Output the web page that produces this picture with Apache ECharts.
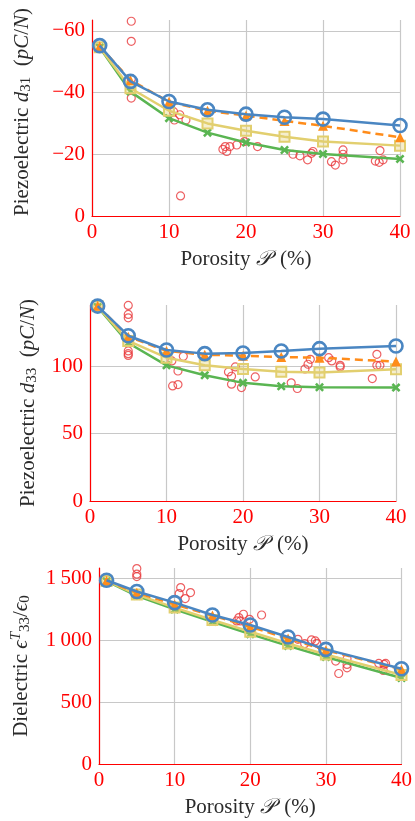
<!DOCTYPE html>
<html>
<head>
<meta charset="utf-8">
<script src="https://cdn.jsdelivr.net/npm/echarts@6/dist/echarts.min.js"></script>
<style>
  html, body { margin: 0; padding: 0; background: #fff; }
  #chart { width: 415px; height: 821px; }
</style>
</head>
<body>
<div id="chart"></div>
<script>
// porosity (%) where the models were evaluated
const porosity = [1, 5, 10, 15, 20, 25, 30, 40];

// d31 (pC/N)
const d31Blue   = [-55.2, -43.6, -37.1, -34.4, -33.0, -32.0, -31.4, -29.3];
const d31Orange = [-55.0, -44.0, -37.0, -34.1, -32.5, -30.8, -29.2, -25.5];
const d31Yellow = [-54.7, -41.4, -34.1, -30.0, -27.6, -25.7, -24.1, -22.8];
const d31Green  = [-54.6, -40.3, -31.7, -27.0, -23.8, -21.4, -20.1, -18.5];
const d31Exp = [
  [5.1, -63.1], [5.1, -56.6], [5.1, -44.4], [5.1, -38.2],
  [10.6, -33.8], [10.7, -31.1], [11.4, -32.8], [12.2, -31.1], [11.5, -6.5],
  [17.0, -21.6], [17.3, -22.5], [17.5, -20.9], [17.9, -22.5], [18.8, -23.0], [19.8, -24.1], [21.5, -22.5],
  [26.1, -20.0], [27.0, -19.5], [28.0, -18.2], [28.5, -20.3], [28.7, -20.9],
  [31.1, -17.6], [31.6, -16.5], [32.6, -21.4], [32.6, -20.0], [32.6, -18.2],
  [36.8, -17.8], [37.3, -17.4], [37.4, -21.2], [37.8, -18.2]
];

// d33 (pC/N)
const d33Blue   = [144.7, 122.7, 112.1, 109.4, 109.9, 111.4, 113.1, 115.1];
const d33Orange = [145.0, 122.0, 111.4, 108.6, 107.9, 106.9, 106.4, 103.5];
const d33Yellow = [144.5, 118.8, 106.4, 100.7, 98.0, 96.0, 95.3, 97.8];
const d33Green  = [144.0, 117.3, 100.7, 93.3, 87.7, 85.2, 84.4, 84.2];
const d33Exp = [
  [5.0, 145.2], [5.0, 138.5], [5.0, 136.0], [5.0, 111.4], [5.0, 109.4], [5.0, 108.1],
  [10.7, 104.0], [10.8, 85.4], [11.5, 86.4], [11.5, 96.5], [12.2, 107.4],
  [18.1, 95.8], [18.5, 92.6], [18.5, 86.7], [19.0, 99.5], [19.8, 84.2], [21.6, 92.1],
  [26.3, 87.7], [27.1, 83.5], [28.1, 98.0], [28.5, 101.5], [28.8, 105.2],
  [31.2, 106.4], [31.6, 104.0], [32.7, 100.7], [32.7, 99.5],
  [36.9, 90.9], [37.5, 108.9], [37.5, 100.7], [37.9, 100.7]
];

// relative permittivity eps33T / eps0
const epsBlue   = [1486, 1395, 1305, 1205, 1124, 1027, 927, 770];
const epsOrange = [1482, 1385, 1290, 1200, 1110, 1015, 920, 765];
const epsYellow = [1480, 1370, 1265, 1165, 1070, 975, 885, 720];
const epsGreen  = [1478, 1360, 1250, 1150, 1050, 955, 865, 695];
const epsExp = [
  [5.0, 1580], [5.0, 1535], [5.0, 1516],
  [10.8, 1427], [10.6, 1378], [11.4, 1338], [12.1, 1386],
  [18.2, 1157], [18.5, 1184], [18.7, 1157], [19.1, 1211], [19.9, 1170], [21.5, 1205],
  [26.3, 1008], [27.2, 973], [28.1, 1003], [28.6, 995], [28.8, 976],
  [31.3, 832], [31.7, 732], [32.8, 851], [32.8, 805], [32.8, 778],
  [37.0, 813], [37.6, 757], [37.7, 805], [37.9, 813]
];

// tick labels
const xTicks = [0, 10, 20, 30, 40];
const d31Ticks = [0, -20, -40, -60];
const d33Ticks = [0, 50, 100];
const epsTicks = [0, 500, 1000, 1500];

const FONT = '"Liberation Serif", "DejaVu Serif", serif';
const RED = '#ff0000';
const GRID = '#c8c8c8';
const TEXT = '#2b2b2b';
const BLUE = '#4a86c2';
const ORANGE = '#ff8c1a';
const YELLOW = '#e2cf6f';
const GREEN = '#5ab552';
const EXP = '#e8383b';
const CROSS = 'path://M0,2L2,0L5,3L8,0L10,2L7,5L10,8L8,10L5,7L2,10L0,8L3,5Z';

const pair = (ys) => porosity.map((x, i) => [x, ys[i]]);

// rich styles for the axis titles (n = upright, i = math italic, sub/sup = indices)
const rich = {
  n: { fontFamily: FONT, fontSize: 21, color: TEXT, lineHeight: 24 },
  i: { fontFamily: FONT, fontSize: 21, fontStyle: 'italic', color: TEXT, lineHeight: 24 },
  sub: { fontFamily: FONT, fontSize: 15, color: TEXT, verticalAlign: 'bottom', lineHeight: 15 },
  sup: { fontFamily: FONT, fontSize: 15, fontStyle: 'italic', color: TEXT, verticalAlign: 'top', lineHeight: 15 }
};

function xAxisFor(g) {
  return {
    gridIndex: g, type: 'value', min: 0, max: 40, interval: 10,
    axisLine: { show: true, onZero: false, lineStyle: { color: RED, width: 1.2 } },
    axisTick: { show: false },
    axisLabel: { color: RED, fontFamily: FONT, fontSize: 21, margin: 6,
      customValues: xTicks },
    splitLine: { show: true, lineStyle: { color: GRID, width: 1.2 } },
    name: '{n|Porosity\u00a0}{i|𝒫}{n|\u2009\u00a0(%)}',
    nameLocation: 'middle', nameGap: 31,
    nameTextStyle: { rich: rich }
  };
}

function yAxisFor(g, max, ticks, opts) {
  return Object.assign({
    gridIndex: g, type: 'value', min: 0, max: max,
    axisLine: { show: true, lineStyle: { color: RED, width: 1.2 } },
    axisTick: { show: false, customValues: ticks },
    axisLabel: { color: RED, fontFamily: FONT, fontSize: 21, margin: 7,
      customValues: ticks },
    splitLine: { show: true, lineStyle: { color: GRID, width: 1.2 } },
    nameLocation: 'middle',
    nameTextStyle: { rich: rich }
  }, opts);
}

function modelSeries(g, blue, orange, yellow, green) {
  return [
    {
      type: 'line', xAxisIndex: g, yAxisIndex: g, data: pair(green), z: 3,
      symbol: CROSS, symbolSize: 9,
      lineStyle: { color: GREEN, width: 2.5 },
      itemStyle: { color: GREEN }
    },
    {
      type: 'line', xAxisIndex: g, yAxisIndex: g, data: pair(yellow), z: 4,
      symbol: 'rect', symbolSize: 10,
      lineStyle: { color: YELLOW, width: 2.5 },
      itemStyle: { color: 'rgba(226,207,111,0.35)', borderColor: YELLOW, borderWidth: 2 }
    },
    {
      type: 'line', xAxisIndex: g, yAxisIndex: g, data: pair(orange), z: 5,
      symbol: 'triangle', symbolSize: 10,
      lineStyle: { color: ORANGE, width: 2.5, type: [8, 5] },
      itemStyle: { color: ORANGE }
    },
    {
      type: 'line', xAxisIndex: g, yAxisIndex: g, data: pair(blue), z: 6,
      symbol: 'circle', symbolSize: 13,
      lineStyle: { color: BLUE, width: 2.5 },
      itemStyle: { color: 'rgba(255,255,255,0)', borderColor: BLUE, borderWidth: 2.6 }
    }
  ];
}

function expSeries(g, data) {
  return {
    type: 'scatter', xAxisIndex: g, yAxisIndex: g, data: data, z: 2,
    symbol: 'circle', symbolSize: 8,
    itemStyle: { color: 'rgba(255,255,255,0)', borderColor: EXP, borderWidth: 1.2 }
  };
}

const chart = echarts.init(document.getElementById('chart'));

const option = {
  animation: false,
  backgroundColor: '#fff',
  grid: [
    { left: 92, top: 20, width: 308, height: 196 },
    { left: 90, top: 305, width: 306, height: 196 },
    { left: 99, top: 568, width: 306, height: 196 }
  ],
  xAxis: [xAxisFor(0), xAxisFor(1), xAxisFor(2)],
  yAxis: [
    yAxisFor(0, 0, d31Ticks, {
      min: -63.5, max: 0, inverse: true,
      name: '{n|Piezoelectric\u00a0}{i|d}{sub|31}{n|\u00a0\u00a0(}{i|pC}{n|/}{i|N}{n|)}', nameGap: 58,
      nameTextStyle: { rich: rich, padding: [0, 0, 0, 12] },
      axisLabel: { color: RED, fontFamily: FONT, fontSize: 21, margin: 7,
        customValues: d31Ticks,
        formatter: (v) => (v < 0 ? '\u2212' + Math.abs(v) : String(v)) }
    }),
    yAxisFor(1, 145.5, d33Ticks, {
      name: '{n|Piezoelectric\u00a0}{i|d}{sub|33}{n|\u00a0\u00a0(}{i|pC}{n|/}{i|N}{n|)}', nameGap: 50
    }),
    yAxisFor(2, 1585, epsTicks, {
      name: '{n|Dielectric\u00a0}{i|ϵ}{sup|T}{sub|33}{n|/}{i|ϵ}{sub|0}', nameGap: 66,
      axisLabel: { color: RED, fontFamily: FONT, fontSize: 21, margin: 7,
        customValues: epsTicks,
        formatter: (v) => (v >= 1000 ? String(v).replace(/(\d)(\d{3})$/, '$1\u2009$2') : String(v)) }
    })
  ],
  series: [
    expSeries(0, d31Exp), ...modelSeries(0, d31Blue, d31Orange, d31Yellow, d31Green),
    expSeries(1, d33Exp), ...modelSeries(1, d33Blue, d33Orange, d33Yellow, d33Green),
    expSeries(2, epsExp), ...modelSeries(2, epsBlue, epsOrange, epsYellow, epsGreen)
  ]
};

chart.setOption(option);
</script>
</body>
</html>
